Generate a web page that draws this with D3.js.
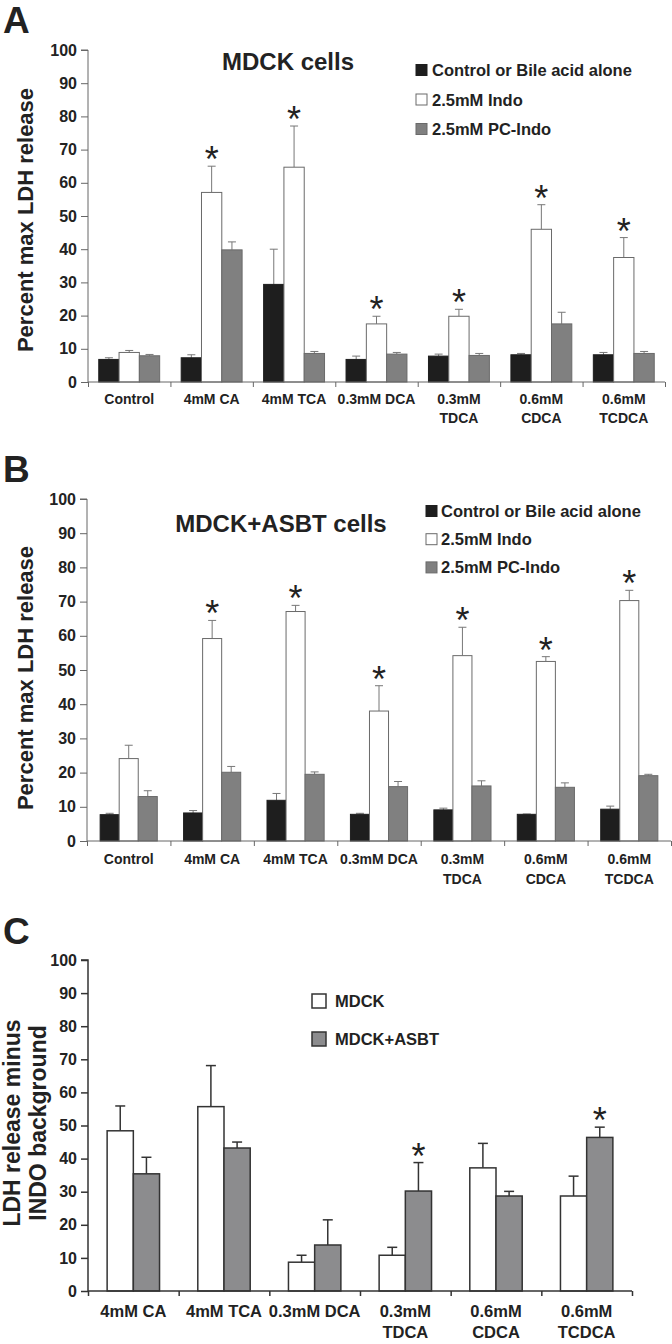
<!DOCTYPE html>
<html>
<head>
<meta charset="utf-8">
<script src="https://cdn.jsdelivr.net/npm/d3@7"></script>
<style>
  body { margin: 0; background: #fff; }
  text { font-family: "Liberation Sans", Arial, sans-serif; font-weight: bold; fill: #222; }
</style>
</head>
<body>
<div id="vis"></div>
<script>
// categories and labels
var catsAB = ["Control", "4mM CA", "4mM TCA", "0.3mM DCA", "0.3mM TDCA", "0.6mM CDCA", "0.6mM TCDCA"];
var labelsAB = [["Control"], ["4mM CA"], ["4mM TCA"], ["0.3mM DCA"], ["0.3mM", "TDCA"], ["0.6mM", "CDCA"], ["0.6mM", "TCDCA"]];
var catsC = ["4mM CA", "4mM TCA", "0.3mM DCA", "0.3mM TDCA", "0.6mM CDCA", "0.6mM TCDCA"];
var labelsC = [["4mM CA"], ["4mM TCA"], ["0.3mM DCA"], ["0.3mM", "TDCA"], ["0.6mM", "CDCA"], ["0.6mM", "TCDCA"]];
var seriesAB = ["Control or Bile acid alone", "2.5mM Indo", "2.5mM PC-Indo"];
var seriesC = ["MDCK", "MDCK+ASBT"];
var yTicks = [0, 10, 20, 30, 40, 50, 60, 70, 80, 90, 100];

// panel A - MDCK cells
var aAlone = [6.8, 7.3, 29.4, 6.8, 7.8, 8.2, 8.2];
var aAloneSem = [0.5, 0.9, 10.6, 1.0, 0.6, 0.4, 0.7];
var aIndo = [8.9, 57.1, 64.7, 17.5, 19.8, 46.0, 37.5];
var aIndoSem = [0.6, 7.9, 12.4, 2.3, 2.1, 7.4, 6.0];
var aPC = [7.9, 39.8, 8.6, 8.4, 8.0, 17.5, 8.6];
var aPCSem = [0.4, 2.4, 0.6, 0.5, 0.6, 3.5, 0.6];
var aStar = [0, 1, 1, 1, 1, 1, 1];

// panel B - MDCK+ASBT cells
var bAlone = [7.7, 8.2, 11.9, 7.8, 9.1, 7.8, 9.3];
var bAloneSem = [0.4, 0.7, 2.0, 0.3, 0.5, 0.1, 0.9];
var bIndo = [24.1, 59.2, 67.1, 38.0, 54.2, 52.5, 70.3];
var bIndoSem = [3.9, 5.3, 1.8, 7.4, 8.3, 1.4, 3.0];
var bPC = [13.0, 20.1, 19.5, 15.9, 16.1, 15.7, 19.1];
var bPCSem = [1.7, 1.7, 0.7, 1.5, 1.5, 1.3, 0.4];
var bStar = [0, 1, 1, 1, 1, 1, 1];

// panel C - minus indo background
var cMdck = [48.4, 55.7, 8.7, 10.8, 37.2, 28.7];
var cMdckSem = [7.5, 12.4, 2.1, 2.4, 7.4, 6.0];
var cAsbt = [35.4, 43.2, 13.9, 30.2, 28.7, 46.4];
var cAsbtSem = [5.0, 1.8, 7.6, 8.6, 1.4, 3.1];
var cStar = [0, 0, 0, 1, 0, 1];

var svg = d3.select("#vis").append("svg").attr("width", 672).attr("height", 1344);

function drawPanel(p) {
    var g = svg.append("g");
    var y = d3.scaleLinear().domain([0, 100]).range([p.y0, p.y1]);
    var x = d3.scaleBand().domain(p.cats).range([p.x0, p.x1]).paddingInner(0).paddingOuter(0);
    var xs = d3.scaleBand().domain(d3.range(p.series.length)).range([0, x.bandwidth()]).paddingInner(0).paddingOuter(p.pad);
    var xIdx = d3.scaleLinear().domain([0, p.cats.length]).range([p.x0, p.x1]);

    // bars + error bars
    p.series.forEach(function(s, si) {
        var rows = p.cats.map(function(c, i) { return {c: c, v: s.values[i], e: s.sem[i], star: s.stars ? s.stars[i] : 0}; });
        var sg = g.append("g");
        sg.selectAll("line.err").data(rows).enter().append("line")
            .attr("x1", function(d) { return x(d.c) + xs(si) + xs.bandwidth() / 2; })
            .attr("x2", function(d) { return x(d.c) + xs(si) + xs.bandwidth() / 2; })
            .attr("y1", function(d) { return y(d.v); })
            .attr("y2", function(d) { return y(d.v + d.e); })
            .attr("stroke", p.errColor).attr("stroke-width", p.errWidth);
        sg.selectAll("line.cap").data(rows).enter().append("line")
            .attr("x1", function(d) { return x(d.c) + xs(si) + xs.bandwidth() / 2 - p.cap / 2; })
            .attr("x2", function(d) { return x(d.c) + xs(si) + xs.bandwidth() / 2 + p.cap / 2; })
            .attr("y1", function(d) { return y(d.v + d.e); })
            .attr("y2", function(d) { return y(d.v + d.e); })
            .attr("stroke", p.errColor).attr("stroke-width", p.errWidth);
        sg.selectAll("rect").data(rows).enter().append("rect")
            .attr("x", function(d) { return x(d.c) + xs(si); })
            .attr("y", function(d) { return y(d.v); })
            .attr("width", xs.bandwidth())
            .attr("height", function(d) { return y(0) - y(d.v); })
            .attr("fill", s.fill).attr("stroke", s.stroke).attr("stroke-width", p.barStroke);
        sg.selectAll("text.star").data(rows.filter(function(d) { return d.star; })).enter().append("text")
            .attr("x", function(d) { return x(d.c) + xs(si) + xs.bandwidth() / 2; })
            .attr("y", function(d) { return y(d.v + d.e) + 6; })
            .attr("text-anchor", "middle")
            .style("font-size", "36px").style("font-weight", "normal")
            .text("*");
    });

    // y axis
    var ya = g.append("g").attr("transform", "translate(" + p.x0 + ",0)")
        .call(d3.axisLeft(y).tickValues(yTicks).tickSize(7).tickPadding(4).tickFormat(d3.format("d")));
    ya.selectAll("path,line").attr("stroke", p.axisColor).attr("stroke-width", p.axisWidth);
    ya.select(".domain").attr("d", "M-7," + p.y1 + "H0V" + p.y0);
    ya.selectAll("text").style("font-size", "16px").style("font-family", "Liberation Sans, Arial, sans-serif").attr("fill", "#222");

    // x axis with ticks at category edges
    var xa = g.append("g").attr("transform", "translate(0," + p.y0 + ")")
        .call(d3.axisBottom(xIdx).tickValues(d3.range(0, p.cats.length + 1)).tickSize(5).tickFormat(""));
    xa.selectAll("path,line").attr("stroke", p.axisColor).attr("stroke-width", p.axisWidth);
    xa.select(".domain").attr("d", "M" + p.x0 + ",0H" + p.x1);

    // category labels
    p.cats.forEach(function(c, i) {
        var t = g.append("text").attr("text-anchor", "middle").style("font-size", p.labelSize + "px");
        p.labels[i].forEach(function(line, li) {
            t.append("tspan").attr("x", x(c) + x.bandwidth() / 2).attr("y", p.y0 + p.labelDy + li * p.labelGap).text(line);
        });
    });

    // y title
    p.ytitle.forEach(function(line, li) {
        g.append("text").attr("transform", "translate(" + p.ytitleX[li] + "," + p.ytitleY + ") rotate(-90)")
            .attr("text-anchor", "middle").style("font-size", p.ytitleSize + "px").text(line);
    });

    // panel letter
    g.append("text").attr("x", 3).attr("y", p.letterY).style("font-size", "37px").text(p.letter);

    if (p.title) {
        g.append("text").attr("x", p.titleX).attr("y", p.titleY).attr("text-anchor", "middle")
            .style("font-size", "24px").text(p.title);
    }

    // legend
    var lg = g.append("g");
    p.series.forEach(function(s, si) {
        var cy = p.legY + si * p.legGap;
        lg.append("rect").attr("x", p.legX).attr("y", cy - p.legBox / 2).attr("width", p.legBox).attr("height", p.legBox)
            .attr("fill", s.fill).attr("stroke", s.stroke).attr("stroke-width", p.barStroke);
        lg.append("text").attr("x", p.legX + p.legBox + p.legTextGap).attr("y", cy + 6).style("font-size", "16.5px").text(s.name);
    });
}

drawPanel({
    letter: "A", letterY: 33, title: "MDCK cells", titleX: 288, titleY: 70,
    cats: catsAB, labels: labelsAB, x0: 88, x1: 665, y0: 382, y1: 50, pad: 0.53,
    series: [
        {name: seriesAB[0], values: aAlone, sem: aAloneSem, fill: "#1e1e1e", stroke: "#1e1e1e"},
        {name: seriesAB[1], values: aIndo, sem: aIndoSem, fill: "#ffffff", stroke: "#6a6a6a", stars: aStar},
        {name: seriesAB[2], values: aPC, sem: aPCSem, fill: "#808080", stroke: "#6a6a6a"}
    ],
    errColor: "#777", errWidth: 1, cap: 8, barStroke: 1, axisColor: "#666", axisWidth: 1,
    labelSize: 14, labelDy: 22, labelGap: 19,
    ytitle: ["Percent max LDH release"], ytitleX: [33], ytitleY: 220, ytitleSize: 22,
    legX: 416, legY: 70, legGap: 29.5, legBox: 11, legTextGap: 5
});

drawPanel({
    letter: "B", letterY: 482, title: "MDCK+ASBT cells", titleX: 281, titleY: 532,
    cats: catsAB, labels: labelsAB, x0: 87, x1: 671, y0: 841, y1: 499, pad: 0.69,
    series: [
        {name: seriesAB[0], values: bAlone, sem: bAloneSem, fill: "#1e1e1e", stroke: "#1e1e1e"},
        {name: seriesAB[1], values: bIndo, sem: bIndoSem, fill: "#ffffff", stroke: "#6a6a6a", stars: bStar},
        {name: seriesAB[2], values: bPC, sem: bPCSem, fill: "#808080", stroke: "#6a6a6a"}
    ],
    errColor: "#777", errWidth: 1, cap: 8, barStroke: 1, axisColor: "#666", axisWidth: 1,
    labelSize: 14, labelDy: 23, labelGap: 20,
    ytitle: ["Percent max LDH release"], ytitleX: [33], ytitleY: 678, ytitleSize: 22,
    legX: 426, legY: 511, legGap: 28.2, legBox: 11, legTextGap: 4
});

drawPanel({
    letter: "C", letterY: 944, title: null,
    cats: catsC, labels: labelsC, x0: 88, x1: 632, y0: 1291, y1: 960, pad: 0.73,
    series: [
        {name: seriesC[0], values: cMdck, sem: cMdckSem, fill: "#ffffff", stroke: "#333"},
        {name: seriesC[1], values: cAsbt, sem: cAsbtSem, fill: "#8c8c8e", stroke: "#333", stars: cStar}
    ],
    errColor: "#333", errWidth: 1.5, cap: 10, barStroke: 1.5, axisColor: "#333", axisWidth: 1.5,
    labelSize: 16.5, labelDy: 26, labelGap: 21,
    ytitle: ["LDH release minus", "INDO background"], ytitleX: [20, 46], ytitleY: 1123, ytitleSize: 23,
    legX: 312, legY: 1001, legGap: 38, legBox: 14, legTextGap: 9
});
</script>
</body>
</html>
